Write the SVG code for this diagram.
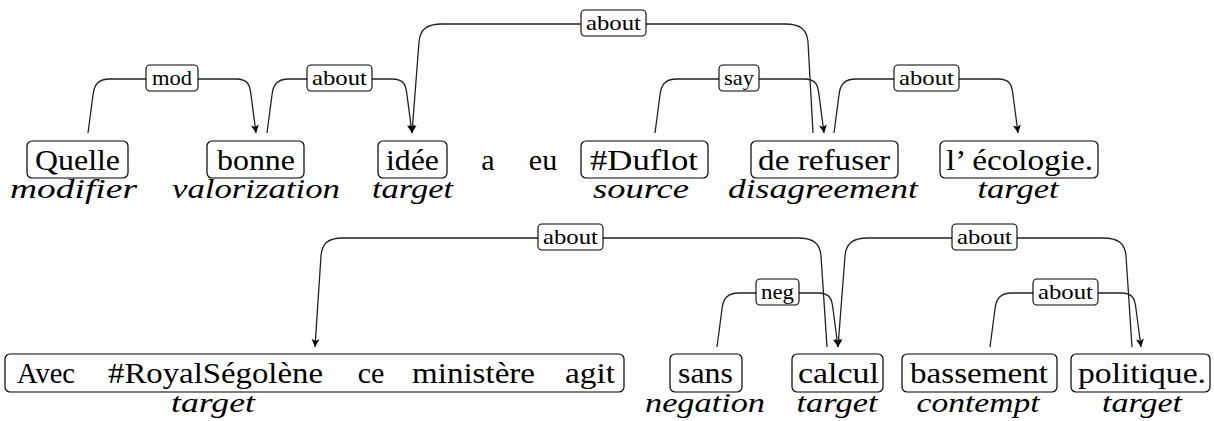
<svg xmlns="http://www.w3.org/2000/svg" width="1214" height="421" viewBox="0 0 1214 421">
<style>
.bg{fill:#fff}
.box{fill:#fff;stroke:#000;stroke-width:1.2}
.w{font-family:'Liberation Serif','Times New Roman',Times,'DejaVu Serif',serif;font-size:30px;fill:#000}
.c{text-anchor:middle}
.role{font-family:'Liberation Serif','Times New Roman',Times,'DejaVu Serif',serif;font-style:italic;font-size:28px;fill:#000;text-anchor:middle}
.edge{fill:none;stroke:#222;stroke-width:1.3}
.arr{marker-end:url(#ah)}
.lbox{fill:#fff;stroke:#000;stroke-width:1.1}
.lt{font-family:'Liberation Serif','Times New Roman',Times,'DejaVu Serif',serif;font-size:21px;fill:#000}
</style>
<defs>
<marker id="ah" viewBox="-9 -5 10 10" refX="0" refY="0" markerWidth="10" markerHeight="10" markerUnits="userSpaceOnUse" orient="auto">
<path d="M0,0 L-8,-4 L-6,0 L-8,4 Z" fill="#000"/>
</marker>
</defs>
<rect class="bg" x="0" y="0" width="1214" height="421"/>

<g id="connectors">
<path class="edge arr" d="M88,133 L93,95 C94,85 98,79 110,79 L236,79 C248,79 250,85 251,95 L256,133"/>
<path class="edge arr" d="M267,133 L272,95 C273,85 277,79 289,79 L392,79 C404,79 406,85 407,95 L412,133"/>
<path class="edge arr" d="M813,133 L808,42 C807,30 801,24 785,24 L442,24 C426,24 420,30 419,42 L412,133"/>
<path class="edge arr" d="M655,133 L660,95 C661,85 665,79 677,79 L804,79 C816,79 818,85 819,95 L824,133"/>
<path class="edge arr" d="M834,133 L839,95 C840,85 844,79 856,79 L998,79 C1010,79 1012,85 1013,95 L1018,133"/>
<path class="edge arr" d="M827,347 L821,256 C820,244 814,238 798,238 L343,238 C327,238 322,244 321,256 L315,347"/>
<path class="edge arr" d="M717,347 L722,309 C723,299 727,293 739,293 L818,293 C830,293 832,299 833,309 L838,347"/>
<path class="edge arr" d="M1132,347 L1126,256 C1125,244 1119,238 1103,238 L868,238 C852,238 846,244 845,256 L838,347"/>
<path class="edge arr" d="M990,347 L995,309 C996,299 1000,293 1012,293 L1121,293 C1133,293 1135,299 1136,309 L1141,347"/>

<rect class="lbox" x="146" y="65" width="52" height="26" rx="4"/>
<text class="lt" x="152" y="85" textLength="40" lengthAdjust="spacingAndGlyphs">mod</text>
<rect class="lbox" x="307" y="65" width="65" height="26" rx="4"/>
<text class="lt" x="312" y="85" textLength="55" lengthAdjust="spacingAndGlyphs">about</text>
<rect class="lbox" x="581" y="10" width="65" height="26" rx="4"/>
<text class="lt" x="586" y="30" textLength="55" lengthAdjust="spacingAndGlyphs">about</text>
<rect class="lbox" x="719" y="65" width="40" height="26" rx="4"/>
<text class="lt" x="724" y="85" textLength="30" lengthAdjust="spacingAndGlyphs">say</text>
<rect class="lbox" x="894" y="65" width="65" height="26" rx="4"/>
<text class="lt" x="899" y="85" textLength="55" lengthAdjust="spacingAndGlyphs">about</text>
<rect class="lbox" x="538" y="224" width="65" height="26" rx="4"/>
<text class="lt" x="543" y="244" textLength="55" lengthAdjust="spacingAndGlyphs">about</text>
<rect class="lbox" x="756" y="279" width="43" height="26" rx="4"/>
<text class="lt" x="761" y="299" textLength="33" lengthAdjust="spacingAndGlyphs">neg</text>
<rect class="lbox" x="952" y="224" width="65" height="26" rx="4"/>
<text class="lt" x="957" y="244" textLength="55" lengthAdjust="spacingAndGlyphs">about</text>
<rect class="lbox" x="1033" y="279" width="65" height="26" rx="4"/>
<text class="lt" x="1038" y="299" textLength="55" lengthAdjust="spacingAndGlyphs">about</text>
</g>

<g id="n-quelle">
<rect class="box" x="27" y="141" width="101" height="37" rx="5"/>
<text class="w" x="35" y="170" textLength="85" lengthAdjust="spacingAndGlyphs">Quelle</text>
<text class="role" x="73.5" y="198" textLength="127" lengthAdjust="spacingAndGlyphs">modifier</text>
</g>
<g id="n-bonne">
<rect class="box" x="207" y="141" width="97" height="37" rx="5"/>
<text class="w" x="217" y="170" textLength="78" lengthAdjust="spacingAndGlyphs">bonne</text>
<text class="role" x="256" y="198" textLength="168" lengthAdjust="spacingAndGlyphs">valorization</text>
</g>
<g id="n-idee">
<rect class="box" x="378" y="141" width="69" height="37" rx="5"/>
<text class="w" x="386" y="170" textLength="53" lengthAdjust="spacingAndGlyphs">idée</text>
<text class="role" x="412.5" y="198" textLength="81" lengthAdjust="spacingAndGlyphs">target</text>
</g>
<g id="n-a">
<text class="w c" x="488" y="170">a</text>
</g>
<g id="n-eu">
<text class="w c" x="543" y="170">eu</text>
</g>
<g id="n-duflot">
<rect class="box" x="581" y="141" width="127" height="37" rx="5"/>
<text class="w" x="590" y="170" textLength="108" lengthAdjust="spacingAndGlyphs">#Duflot</text>
<text class="role" x="641" y="198" textLength="96" lengthAdjust="spacingAndGlyphs">source</text>
</g>
<g id="n-refuser">
<rect class="box" x="751" y="141" width="147" height="37" rx="5"/>
<text class="w" x="758" y="170" textLength="132" lengthAdjust="spacingAndGlyphs">de refuser</text>
<text class="role" x="823" y="198" textLength="190" lengthAdjust="spacingAndGlyphs">disagreement</text>
</g>
<g id="n-ecologie">
<rect class="box" x="940" y="141" width="158" height="37" rx="5"/>
<text class="w" x="946" y="170" textLength="147" lengthAdjust="spacingAndGlyphs">l’ écologie.</text>
<text class="role" x="1018" y="198" textLength="81" lengthAdjust="spacingAndGlyphs">target</text>
</g>

<g id="n-avec">
<rect class="box" x="5" y="354" width="619" height="38" rx="5"/>
<text class="w" x="17" y="383" textLength="58" lengthAdjust="spacingAndGlyphs">Avec</text>
<text class="w" x="108" y="383" textLength="215" lengthAdjust="spacingAndGlyphs">#RoyalSégolène</text>
<text class="w c" x="371" y="383">ce</text>
<text class="w" x="412" y="383" textLength="123" lengthAdjust="spacingAndGlyphs">ministère</text>
<text class="w" x="565" y="383" textLength="50" lengthAdjust="spacingAndGlyphs">agit</text>
<text class="role" x="213" y="412" textLength="84" lengthAdjust="spacingAndGlyphs">target</text>
</g>
<g id="n-sans">
<rect class="box" x="670" y="354" width="72" height="38" rx="5"/>
<text class="w" x="678" y="383" textLength="55" lengthAdjust="spacingAndGlyphs">sans</text>
<text class="role" x="705" y="412" textLength="120" lengthAdjust="spacingAndGlyphs">negation</text>
</g>
<g id="n-calcul">
<rect class="box" x="792" y="354" width="91" height="38" rx="5"/>
<text class="w" x="798" y="383" textLength="81" lengthAdjust="spacingAndGlyphs">calcul</text>
<text class="role" x="837" y="412" textLength="81" lengthAdjust="spacingAndGlyphs">target</text>
</g>
<g id="n-bassement">
<rect class="box" x="902" y="354" width="155" height="38" rx="5"/>
<text class="w" x="910" y="383" textLength="138" lengthAdjust="spacingAndGlyphs">bassement</text>
<text class="role" x="978" y="412" textLength="123" lengthAdjust="spacingAndGlyphs">contempt</text>
</g>
<g id="n-politique">
<rect class="box" x="1071" y="354" width="139" height="38" rx="5"/>
<text class="w" x="1078" y="383" textLength="128" lengthAdjust="spacingAndGlyphs">politique.</text>
<text class="role" x="1142" y="412" textLength="80" lengthAdjust="spacingAndGlyphs">target</text>
</g>
</svg>
